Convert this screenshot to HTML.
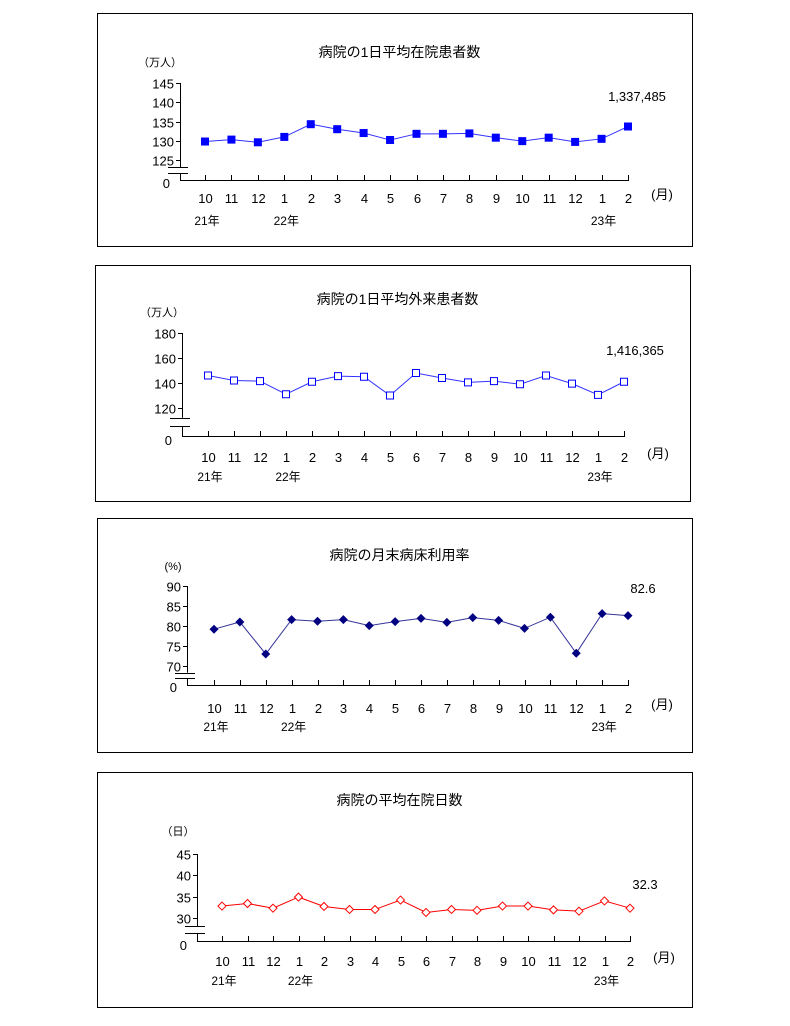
<!DOCTYPE html>
<html><head><meta charset="utf-8"><style>
body{margin:0;background:#fff;}
svg{display:block;font-family:"Liberation Sans","Noto Sans CJK JP",sans-serif;}
</style></head><body>
<svg id="s" width="790" height="1026" viewBox="0 0 790 1026"></svg>
<script>
const months = ["10","11","12","1","2","3","4","5","6","7","8","9","10","11","12","1","2"];
const inpatients = [129.8,130.3,129.6,131,134.3,133,132,130.2,131.8,131.8,131.9,130.8,129.9,130.8,129.7,130.5,133.7];
const outpatients = [146,142,141.5,131,141,145.5,145,130,148,144,140.5,141.5,139,146,139.5,130.5,141];
const bedRate = [79.2,81,73,81.6,81.2,81.6,80.1,81.1,81.9,80.9,82.1,81.4,79.4,82.2,73.2,83.1,82.6];
const stayDays = [32.8,33.4,32.3,34.9,32.7,32.0,32.0,34.2,31.3,32.0,31.8,32.8,32.8,31.9,31.6,34.0,32.3];
const ticks1 = [125,130,135,140,145];
const ticks2 = [120,140,160,180];
const ticks3 = [70,75,80,85,90];
const ticks4 = [30,35,40,45];

const NS="http://www.w3.org/2000/svg";
const svg=document.getElementById('s');
function mk(tag,attrs,parent,text){const e=document.createElementNS(NS,tag);for(const k in attrs)e.setAttribute(k,attrs[k]);if(text!==undefined)e.textContent=text;(parent||svg).appendChild(e);return e;}

const charts=[
 {name:'inpatients',frame:[97,13,595,233],title:'病院の1日平均在院患者数',ty:57,unit:'（万人）',ux:160,uy:66,ax:180,x0:205,x1:628,
  tv:ticks1,ymin:125,ymax:145,yTop:83,yBot:160,axisY:180,zeroY:188,data:inpatients,marker:'sq',color:'#0000ff',line:'#3333ff',label:'1,337,485',lx:637,ly:101,my:203,yy:225},
 {name:'outpatients',frame:[95,265,595,236],title:'病院の1日平均外来患者数',ty:304,unit:'（万人）',ux:162,uy:316,ax:182,x0:208,x1:624,
  tv:ticks2,ymin:120,ymax:180,yTop:333,yBot:408,axisY:436,zeroY:445,data:outpatients,marker:'osq',color:'#0000ff',line:'#3333ff',label:'1,416,365',lx:635,ly:355,my:462,yy:481},
 {name:'bed-utilization',frame:[97,518,595,234],title:'病院の月末病床利用率',ty:560,unit:'(%)',ux:173,uy:570,ax:187,x0:214,x1:628,
  tv:ticks3,ymin:70,ymax:90,yTop:586,yBot:666,axisY:685,zeroY:692,data:bedRate,marker:'dia',color:'#000080',line:'#333399',label:'82.6',lx:643,ly:593,my:713,yy:731},
 {name:'avg-stay',frame:[97,772,595,235],title:'病院の平均在院日数',ty:805,unit:'（日）',ux:178,uy:835,ax:197,x0:222,x1:630,
  tv:ticks4,ymin:30,ymax:45,yTop:854,yBot:918,axisY:941,zeroY:950,data:stayDays,marker:'odia',color:'#ff0000',line:'#ff0000',label:'32.3',lx:645,ly:889,my:966,yy:985}
];

charts.forEach(c=>{
 const g=mk('g',{});
 
 
 const f=c.frame;
 const fr=mk('rect',{x:f[0]+0.5,y:f[1]+0.5,width:f[2],height:f[3],fill:'none',stroke:'#000','stroke-width':1},g);
 
 
 const t=mk('text',{x:f[0]+f[2]/2+5,y:c.ty,'font-size':14,'text-anchor':'middle'},g,c.title);
 
 
 const u=mk('text',{x:c.ux,y:c.uy,'font-size':11,'text-anchor':'middle'},g,c.unit);
 
 
 const ys=v=>c.yBot-(v-c.ymin)/(c.ymax-c.ymin)*(c.yBot-c.yTop);
 const n=c.data.length;
 const xs=i=>c.x0+i*(c.x1-c.x0)/(n-1);
 // y axis
 mk('line',{x1:c.ax+0.5,y1:c.yTop,x2:c.ax+0.5,y2:c.axisY,stroke:'#000'},g);
 c.tv.forEach(v=>{
  const y=Math.round(ys(v))+0.5;
  mk('line',{x1:c.ax-4,y1:y,x2:c.ax,y2:y,stroke:'#000'},g);
  const tl=mk('text',{x:c.ax-6,y:y+5,'font-size':13,'text-anchor':'end'},g,String(v));
  
  
 });
 // break marks
 const b1=c.yBot+(c.axisY-c.yBot)*0.35, b2=c.yBot+(c.axisY-c.yBot)*0.65;
 mk('rect',{x:c.ax-10,y:b1,width:20,height:b2-b1,fill:'#fff'},g);
 mk('line',{x1:c.ax-12,y1:Math.round(b1)+0.5,x2:c.ax+8,y2:Math.round(b1)+0.5,stroke:'#000'},g);
 mk('line',{x1:c.ax-12,y1:Math.round(b2)+0.5,x2:c.ax+8,y2:Math.round(b2)+0.5,stroke:'#000'},g);
 const z=mk('text',{x:c.ax-10,y:c.zeroY,'font-size':13,'text-anchor':'end'},g,'0');
 
 
 // x axis
 mk('line',{x1:c.ax,y1:c.axisY+0.5,x2:c.x1+1,y2:c.axisY+0.5,stroke:'#000'},g);
 months.forEach((m,i)=>{
  const x=Math.round(xs(i))+0.5;
  mk('line',{x1:x,y1:c.axisY-5,x2:x,y2:c.axisY,stroke:'#000'},g);
  const ml=mk('text',{x:x,y:c.my,'font-size':13,'text-anchor':'middle'},g,m);
  
  
 });
 [[0,'21年'],[3,'22年'],[15,'23年']].forEach(([i,s])=>{
  const yl=mk('text',{x:xs(i)+2,y:c.yy,'font-size':12,'text-anchor':'middle'},g,s);
  
  
 });
 const mo=mk('text',{x:c.x1+34,y:c.my-4,'font-size':13,'text-anchor':'middle',fill:'#000'},g,'(月)');
 
 
 // line
 const pts=c.data.map((v,i)=>xs(i)+','+ys(v)).join(' ');
 const pl=mk('polyline',{points:pts,fill:'none',stroke:c.line,'stroke-width':1},g);
 
 
 c.data.forEach((v,i)=>{
  const x=xs(i),y=ys(v);let m;
  if(c.marker==='sq') m=mk('rect',{x:x-4,y:y-4,width:8,height:8,fill:c.color},g);
  else if(c.marker==='osq') m=mk('rect',{x:x-3.5,y:y-3.5,width:7,height:7,fill:'#fff',stroke:c.color},g);
  else if(c.marker==='dia') m=mk('polygon',{points:`${x},${y-4.5} ${x+4.5},${y} ${x},${y+4.5} ${x-4.5},${y}`,fill:c.color},g);
  else m=mk('polygon',{points:`${x},${y-4} ${x+4},${y} ${x},${y+4} ${x-4},${y}`,fill:'#fff',stroke:c.color},g);
  
  
 });
 const vl=mk('text',{x:c.lx,y:c.ly,'font-size':13,'text-anchor':'middle'},g,c.label);
 
 
});
</script>
</body></html>
